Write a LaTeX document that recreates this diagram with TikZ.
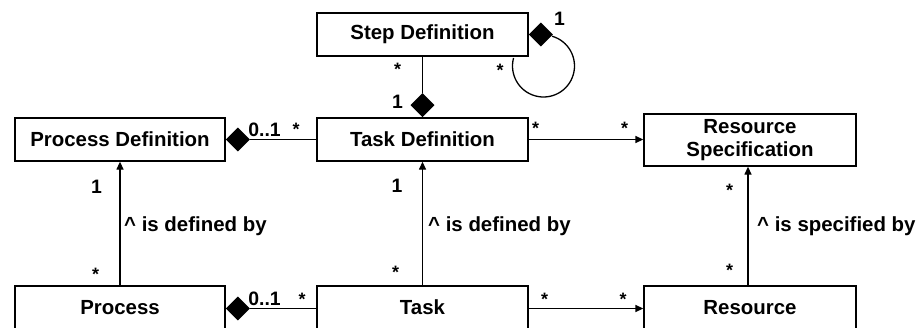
\documentclass[tikz,border=0pt]{standalone}
\usepackage{fontspec}
\setmainfont{Liberation Sans}
\usetikzlibrary{arrows.meta,shapes.geometric}
\begin{document}
\begin{tikzpicture}[x=1bp,y=1bp,
  cls/.style={draw, line width=1.3bp, fill=white, minimum width=211bp, minimum height=43bp, inner sep=0pt, font=\fontsize{20.5}{23.5}\selectfont\bfseries, align=center},
  comp/.style={diamond, fill=black, inner sep=0pt, minimum width=24bp, minimum height=24bp},
  conn/.style={line width=1.3bp},
  nav/.style={conn, -{Triangle[length=8bp,width=7bp]}},
  mult/.style={font=\fontsize{19.5}{21}\selectfont\bfseries, inner sep=0pt, anchor=base},
  star/.style={font=\fontsize{18}{20}\selectfont\bfseries, inner sep=0pt, anchor=base},
  role/.style={font=\fontsize{20.5}{23.5}\selectfont\bfseries, inner sep=0pt, anchor=base west}]
\useasboundingbox (0,0) rectangle (923,327);
% self loop (drawn first, covered by box and diamond)
\coordinate (loopc) at (543.5,261);
\draw[conn] (loopc) ++(74:31) arc[start angle=74, end angle=-195, radius=31];
% classes
\node[cls] (SD) at (422.5,292.5) {Step Definition};
\node[cls] (TD) at (422.5,187.5) {Task Definition};
\node[cls, minimum width=210bp] (PD) at (120,187.5) {Process Definition};
\node[cls, minimum width=212bp, minimum height=52bp] (RS) at (750,187) {Resource\\Specification};
\node[cls, minimum width=210bp] (P) at (120,19.5) {Process};
\node[cls] (T) at (422.5,19.5) {Task};
\node[cls, minimum width=212bp] (R) at (750,19.5) {Resource};
% composition diamonds
\node[comp, anchor=west] (dSD) at (SD.east) {};
\node[comp, anchor=west] (dPD) at (PD.east) {};
\node[comp, anchor=west] (dP) at ([yshift=-1bp]P.east) {};
\node[comp, anchor=south] (dTD) at (TD.north) {};
% connectors
\draw[conn] (SD.south) -- (dTD.north);
\draw[conn] (dPD.east) -- (TD.west |- dPD.east);
\draw[conn] (dP.east) -- (T.west |- dP.east);
\draw[nav] (TD.east) -- (RS.west |- TD.east);
\draw[nav] (T.east |- dP.east) -- (R.west |- dP.east);
\draw[nav] (P.north) -- (PD.south);
\draw[nav] (T.north) -- (TD.south);
\draw[nav] ([xshift=-2bp]R.north) -- ([xshift=-2bp]RS.south);
% multiplicities
\node[mult] (m1) at (559.5,302) {1};
\node[star] (m2) at (500,251) {*};
\node[star] (m3) at (397.5,252) {*};
\node[mult] (m4) at (397.5,219) {1};
\node[star] (m5) at (535.5,192.5) {*};
\node[star] (m6) at (624.5,192.5) {*};
\node[mult] (m7) at (264.5,191) {0..1};
\node[star] (m8) at (296,192) {*};
\node[mult] (m9) at (96.5,134) {1};
\node[star] (m10) at (95.5,47) {*};
\node[mult] (m11) at (264.5,22) {0..1};
\node[star] (m12) at (302,22) {*};
\node[mult] (m13) at (397,135) {1};
\node[star] (m14) at (395.5,48.5) {*};
\node[star] (m15) at (544.5,22) {*};
\node[star] (m16) at (623,22) {*};
\node[star] (m17) at (729.5,131) {*};
\node[star] (m18) at (729.5,50.5) {*};
% role names
\node[role] (r1) at (124,96) {\textasciicircum\ is defined by};
\node[role] (r2) at (428,96) {\textasciicircum\ is defined by};
\node[role] (r3) at (757,96) {\textasciicircum\ is specified by};
\end{tikzpicture}
\end{document}
